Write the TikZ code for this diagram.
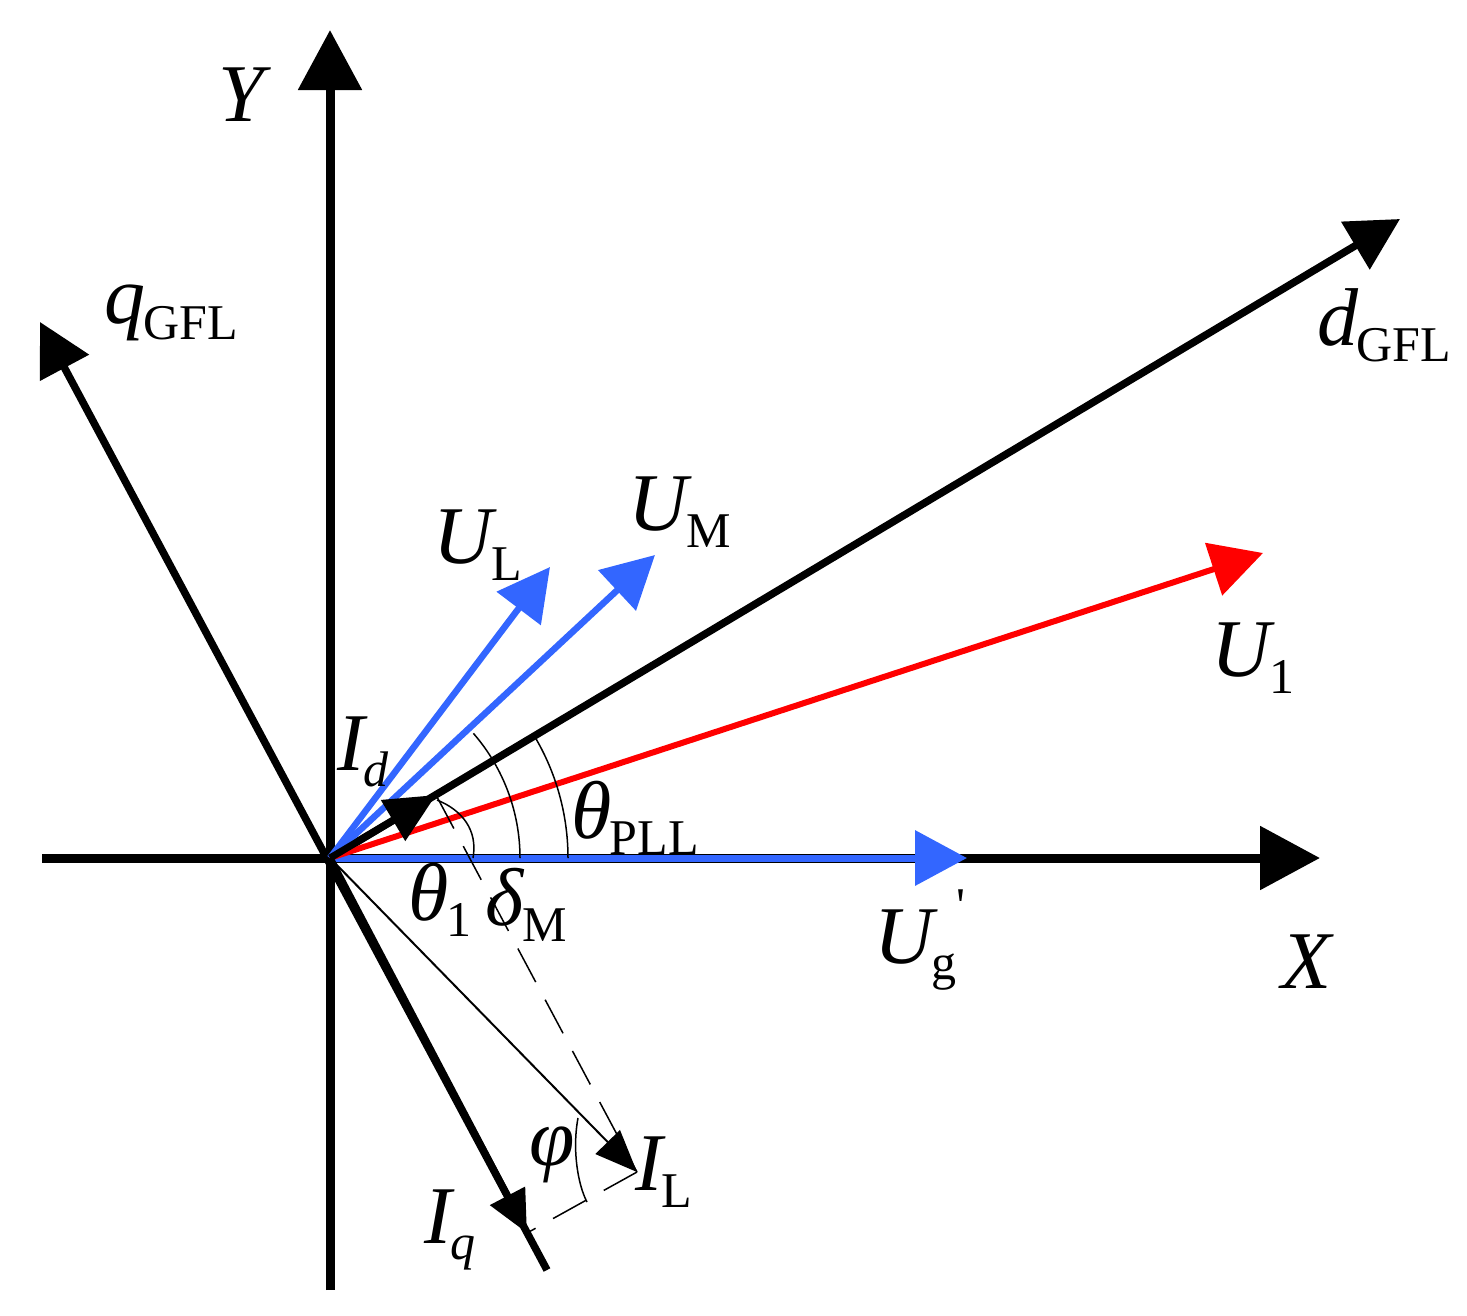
\documentclass[tikz,border=0pt]{standalone}
\usepackage{fontspec}
\setmainfont{Liberation Serif}
\usetikzlibrary{arrows.meta}

\definecolor{vblue}{RGB}{51,102,255}
\definecolor{vred}{RGB}{255,0,0}

% italic symbol with upright subscript
\newcommand{\vsym}[2]{{\itshape #1}\kern-0.02em\raisebox{-0.2em}{\fontsize{50}{55}\selectfont #2}}

\tikzset{
  axisarr/.style={line width=9pt,-{Triangle[length=60pt,width=62pt]}},
  vecarr/.style={line width=7.5pt,-{Triangle[length=52pt,width=54pt]}},
  thinarr/.style={line width=2pt,-{Triangle[length=42pt,width=34pt]}},
  anglearc/.style={line width=1.5pt},
  projline/.style={line width=1.5pt,dash pattern=on 38pt off 20pt},
  lbl/.style={font=\fontsize{82}{96}\selectfont,inner sep=0pt},
}

\begin{document}
\begin{tikzpicture}[x=1pt,y=-1pt]

\useasboundingbox (0,0) rectangle (1467,1315);

% points
\coordinate (O) at (330,858);
\coordinate (Ytip) at (330,30);
\coordinate (Ybot) at (330,1290);
\coordinate (Xtip) at (1320,858);
\coordinate (Xleft) at (42,858);
\coordinate (qtip) at (40,322);
\coordinate (qbot) at (547,1270);
\coordinate (dtip) at (1400,219);
\coordinate (ULtip) at (550,567);
\coordinate (UMtip) at (655,555);
\coordinate (U1tip) at (1263,553);
\coordinate (Ugtip) at (967,858);
\coordinate (Idtip) at (436,795);
\coordinate (ILtip) at (637,1172);
\coordinate (Iqtip) at (527,1233);

% axes
\draw [axisarr] (Ybot) -- (Ytip);
\draw [axisarr] (Xleft) -- (Xtip);
\draw [vecarr] (qbot) -- (qtip);
\draw [vecarr] (O) -- (dtip);

% voltages
\draw [vecarr,line width=7pt,color=vblue] (O) -- (Ugtip);
\draw [vecarr,line width=6.5pt,color=vblue] (O) -- (ULtip);
\draw [vecarr,line width=6.5pt,color=vblue] (O) -- (UMtip);
\draw [vecarr,line width=6pt,color=vred] (O) -- (U1tip);

% currents
\draw [line width=7pt,-{Triangle[length=50pt,width=46pt]}] (O) -- (Idtip);
\draw [line width=7pt,-{Triangle[length=42pt,width=38pt]}] (O) -- (Iqtip);
\draw [thinarr] (O) -- (ILtip);
\draw [projline] (Idtip) -- (ILtip);
\draw [projline] (ILtip) -- (Iqtip);

% angles
\draw [anglearc] (O) ++(238,0) arc[start angle=0,end angle=-30.85,radius=238];
\draw [anglearc] (O) ++(190,0) arc[start angle=0,end angle=-41,radius=190];
\draw [anglearc] (473,858) .. controls (478,830) and (462,810) .. (437,800);
\draw [anglearc] (578,1118) .. controls (572,1150) and (578,1185) .. (587,1202);

% labels
\node [lbl] (Ylbl) at (245,95) {\textit{Y}};
\node [lbl] (Xlbl) at (1308,962) {\textit{X}};
\node [lbl] (qlbl) at (171,313) {\vsym{q}{GFL}};
\node [lbl] (dlbl) at (1384,325) {\vsym{d}{GFL}};
\node [lbl] (ULlbl) at (478,545) {\vsym{U}{L}};
\node [lbl] (UMlbl) at (680,512) {\vsym{U}{M}};
\node [lbl] (U1lbl) at (1253,658) {\vsym{U}{1}};
\node [lbl] (Uglbl) at (920,940) {\vsym{U}{g}\raisebox{0.5em}{\fontsize{50}{55}\selectfont\textquotesingle}};
\node [lbl] (Idlbl) at (363,752) {\vsym{I}{\textit{d}}};
\node [lbl] (ILlbl) at (664,1172) {\vsym{I}{L}};
\node [lbl] (Iqlbl) at (450,1230) {\vsym{I}{\textit{q}}};
\node [lbl] (PLLlbl) at (635,818) {\vsym{θ}{PLL}};
\node [lbl] (th1lbl) at (440,900) {\vsym{θ}{1}};
\node [lbl] (dMlbl) at (526,905) {\vsym{δ}{M}};
\node [lbl] (philbl) at (552,1155) {\textit{φ}};

\end{tikzpicture}
\end{document}
